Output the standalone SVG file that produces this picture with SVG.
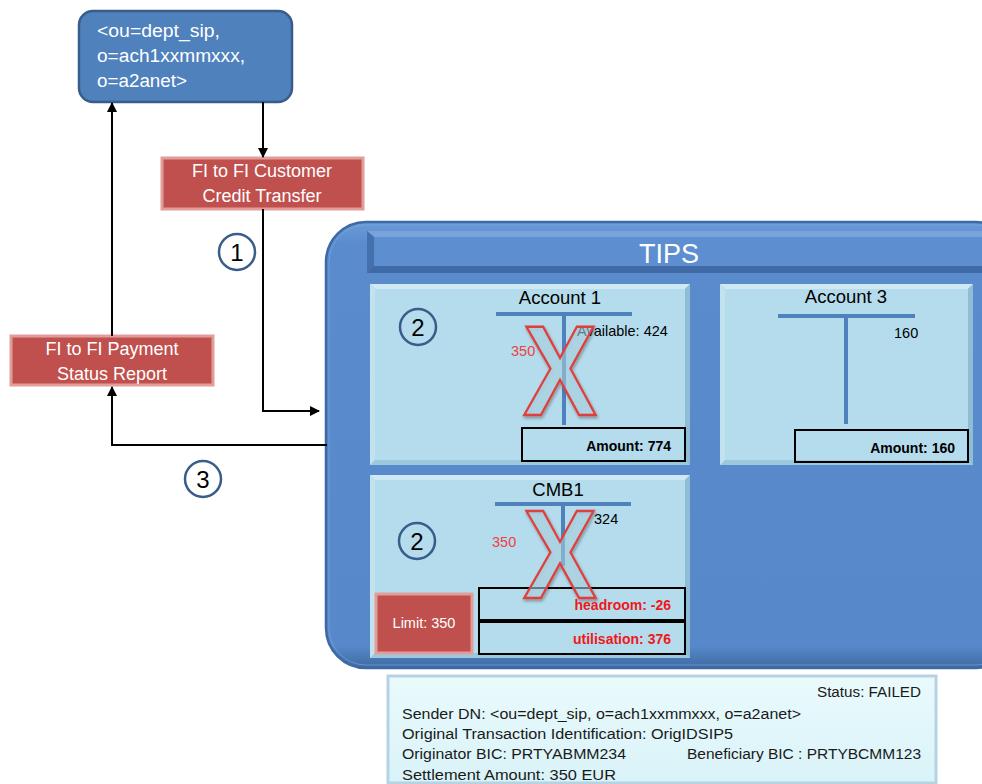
<svg xmlns="http://www.w3.org/2000/svg" width="982" height="784" viewBox="0 0 982 784">
<style>
text{font-family:"Liberation Sans",Arial,sans-serif}
.w{fill:#fff}
.k{fill:#000}
.conn{stroke:#000;stroke-width:2;fill:none}
.redbox{fill:#c0504d;stroke:#e29d9b;stroke-width:3}
.circ{fill:none;stroke:#385d8a;stroke-width:2.5}
.num{font-size:24px;fill:#000;text-anchor:middle}
.tbar{stroke:#4f81bd;stroke-width:4;fill:none}
.amt{fill:none;stroke:#000;stroke-width:2}
.bold{font-weight:bold;font-size:14px;text-anchor:end}
.sm{font-size:14.5px}
.xm{font-family:"Liberation Sans",Arial,sans-serif;font-weight:bold;font-size:128px;fill:#b4dcec;fill-opacity:0.5;stroke:#e0403c;stroke-width:2.5;text-anchor:middle}
.pface{fill:#b4dcec}
.info{font-size:15.5px;fill:#1a1a1a}
</style>
<defs>
<marker id="ah" viewBox="0 0 10 10" refX="9" refY="5" markerWidth="10" markerHeight="10" markerUnits="userSpaceOnUse" orient="auto">
<path d="M0,0 L10,5 L0,10 z" fill="#000"/>
</marker>
<filter id="sh" x="-20%" y="-20%" width="140%" height="140%">
<feDropShadow dx="1" dy="2" stdDeviation="1.5" flood-color="#000" flood-opacity="0.35"/>
</filter>
<linearGradient id="tipsg" x1="0" y1="0" x2="0" y2="1">
<stop offset="0" stop-color="#6a9ad8"/>
<stop offset="0.05" stop-color="#5a8ccd"/>
<stop offset="0.95" stop-color="#5789ca"/>
<stop offset="1" stop-color="#3f6aa3"/>
</linearGradient>
<linearGradient id="infog" x1="0" y1="0" x2="0" y2="1">
<stop offset="0" stop-color="#eafafc"/>
<stop offset="1" stop-color="#d9f3f8"/>
</linearGradient>
</defs>

<g id="tips">
<rect x="326" y="222" width="690" height="446" rx="40" fill="url(#tipsg)" stroke="#3d6aa5" stroke-width="2.5"/>
<rect x="329" y="225" width="684" height="440" rx="37" fill="none" stroke="#7ea8de" stroke-width="1" stroke-opacity="0.6"/>
<g id="tips-title">
<rect x="367" y="231" width="640" height="42" fill="#4b7aba"/>
<polygon points="367,231 1007,231 1000,237 374,237" fill="#79a3da"/>
<polygon points="367,231 374,237 374,266 367,273" fill="#4470ad"/>
<polygon points="367,273 374,266 1000,266 1007,273" fill="#3f6aa5"/>
<rect x="374" y="237" width="626" height="29" fill="#5d8ecf"/>
<text x="669" y="263" class="w" font-size="27" text-anchor="middle">TIPS</text>
</g>
</g>

<g id="account1">
<rect x="370" y="284" width="320" height="181" fill="#9cc8de"/>
<polygon points="370,284 690,284 685,289 375,289" fill="#cfe9f4"/>
<polygon points="370,284 375,289 375,460 370,465" fill="#c2e2f0"/>
<polygon points="690,284 690,465 685,460 685,289" fill="#8fbdd6"/>
<rect x="375" y="289" width="310" height="171" class="pface"/>
<text x="560" y="304" class="k" font-size="18.5" text-anchor="middle">Account 1</text>
<path d="M496,314 H632 M564,314 V425" class="tbar"/>
<text x="577" y="336" class="k sm">Available: 424</text>
<text x="511" y="356" fill="#f04040" class="sm">350</text>
<g filter="url(#sh)"><text class="xm" transform="translate(560,415) scale(0.86,1)" x="0" y="0">X</text></g>
<rect x="522" y="428" width="163" height="33" class="amt"/>
<text x="671" y="451" class="bold k">Amount: 774</text>
<circle cx="418" cy="327" r="18" class="circ"/>
<text x="418" y="336" class="num">2</text>
</g>

<g id="account3">
<rect x="720" y="284" width="253" height="181" fill="#9cc8de"/>
<polygon points="720,284 973,284 968,289 725,289" fill="#cfe9f4"/>
<polygon points="720,284 725,289 725,460 720,465" fill="#c2e2f0"/>
<polygon points="973,284 973,465 968,460 968,289" fill="#8fbdd6"/>
<rect x="725" y="289" width="243" height="171" class="pface"/>
<text x="846" y="303" class="k" font-size="18.5" text-anchor="middle">Account 3</text>
<path d="M778,316 H915 M846,316 V424" class="tbar"/>
<text x="894" y="338" class="k sm">160</text>
<rect x="795" y="430" width="173" height="32" class="amt"/>
<text x="955" y="453" class="bold k">Amount: 160</text>
</g>

<g id="cmb1">
<rect x="370" y="475" width="320" height="183" fill="#9cc8de"/>
<polygon points="370,475 690,475 685,480 375,480" fill="#cfe9f4"/>
<polygon points="370,475 375,480 375,653 370,658" fill="#c2e2f0"/>
<polygon points="690,475 690,658 685,653 685,480" fill="#8fbdd6"/>
<rect x="375" y="480" width="310" height="173" class="pface"/>
<text x="558" y="496" class="k" font-size="18.5" text-anchor="middle">CMB1</text>
<path d="M495,504 H631 M563,504 V566" class="tbar"/>
<text x="594" y="524" class="k sm">324</text>
<text x="492" y="547" fill="#f04040" class="sm">350</text>
<circle cx="417" cy="541" r="18" class="circ"/>
<text x="417" y="550" class="num">2</text>
<rect x="479" y="588" width="206" height="32" class="amt"/>
<rect x="479" y="622" width="206" height="32" class="amt"/>
<g filter="url(#sh)"><text class="xm" transform="translate(560,598) scale(0.86,0.98)" x="0" y="0">X</text></g>
<text x="671" y="610" class="bold" fill="#f01818">headroom: -26</text>
<text x="671" y="644" class="bold" fill="#f01818">utilisation: 376</text>
<g id="limit">
<rect x="376" y="594" width="96" height="59" class="redbox"/>
<text x="424" y="628" class="w" font-size="14.5" text-anchor="middle">Limit: 350</text>
</g>
</g>

<g id="sender">
<rect x="79" y="11" width="213" height="91" rx="14" fill="#4f81bd" stroke="#385d8a" stroke-width="2.5"/>
<text x="97" y="37" class="w" font-size="18" textLength="123" lengthAdjust="spacingAndGlyphs">&lt;ou=dept_sip,</text>
<text x="97" y="62" class="w" font-size="18" textLength="148" lengthAdjust="spacingAndGlyphs">o=ach1xxmmxxx,</text>
<text x="97" y="87" class="w" font-size="18" textLength="90" lengthAdjust="spacingAndGlyphs">o=a2anet&gt;</text>
</g>

<g id="pacs008">
<rect x="162" y="158" width="201" height="51" class="redbox"/>
<text x="262" y="177" class="w" font-size="18" text-anchor="middle">FI to FI Customer</text>
<text x="262" y="202" class="w" font-size="18" text-anchor="middle">Credit Transfer</text>
</g>

<g id="pacs002">
<rect x="11" y="336" width="202" height="49" class="redbox"/>
<text x="112" y="355" class="w" font-size="18" text-anchor="middle">FI to FI Payment</text>
<text x="112" y="380" class="w" font-size="18" text-anchor="middle">Status Report</text>
</g>

<g id="info">
<rect x="388" y="676" width="548" height="107" fill="url(#infog)" stroke="#b5d3e2" stroke-width="3"/>
<text x="921" y="697" class="info" text-anchor="end" textLength="104" lengthAdjust="spacingAndGlyphs">Status: FAILED</text>
<text x="402" y="719" class="info" textLength="399" lengthAdjust="spacingAndGlyphs">Sender DN: &lt;ou=dept_sip, o=ach1xxmmxxx, o=a2anet&gt;</text>
<text x="402" y="739" class="info" textLength="331" lengthAdjust="spacingAndGlyphs">Original Transaction Identification: OrigIDSIP5</text>
<text x="402" y="759" class="info" textLength="224" lengthAdjust="spacingAndGlyphs">Originator BIC: PRTYABMM234</text>
<text x="687" y="759" class="info" textLength="234" lengthAdjust="spacingAndGlyphs">Beneficiary BIC : PRTYBCMM123</text>
<text x="402" y="780" class="info" textLength="214" lengthAdjust="spacingAndGlyphs">Settlement Amount: 350 EUR</text>
</g>

<g id="steps">
<circle cx="237" cy="252" r="18" class="circ"/>
<text x="237" y="261" class="num">1</text>
<circle cx="203" cy="479" r="18" class="circ"/>
<text x="203" y="488" class="num">3</text>
</g>

<g id="connectors">
<path d="M263,102 V157" class="conn" marker-end="url(#ah)"/>
<path d="M263,209 V411 H319" class="conn" marker-end="url(#ah)"/>
<path d="M112,336 V103" class="conn" marker-end="url(#ah)"/>
<path d="M327,445 H112 V387" class="conn" marker-end="url(#ah)"/>
</g>
</svg>
